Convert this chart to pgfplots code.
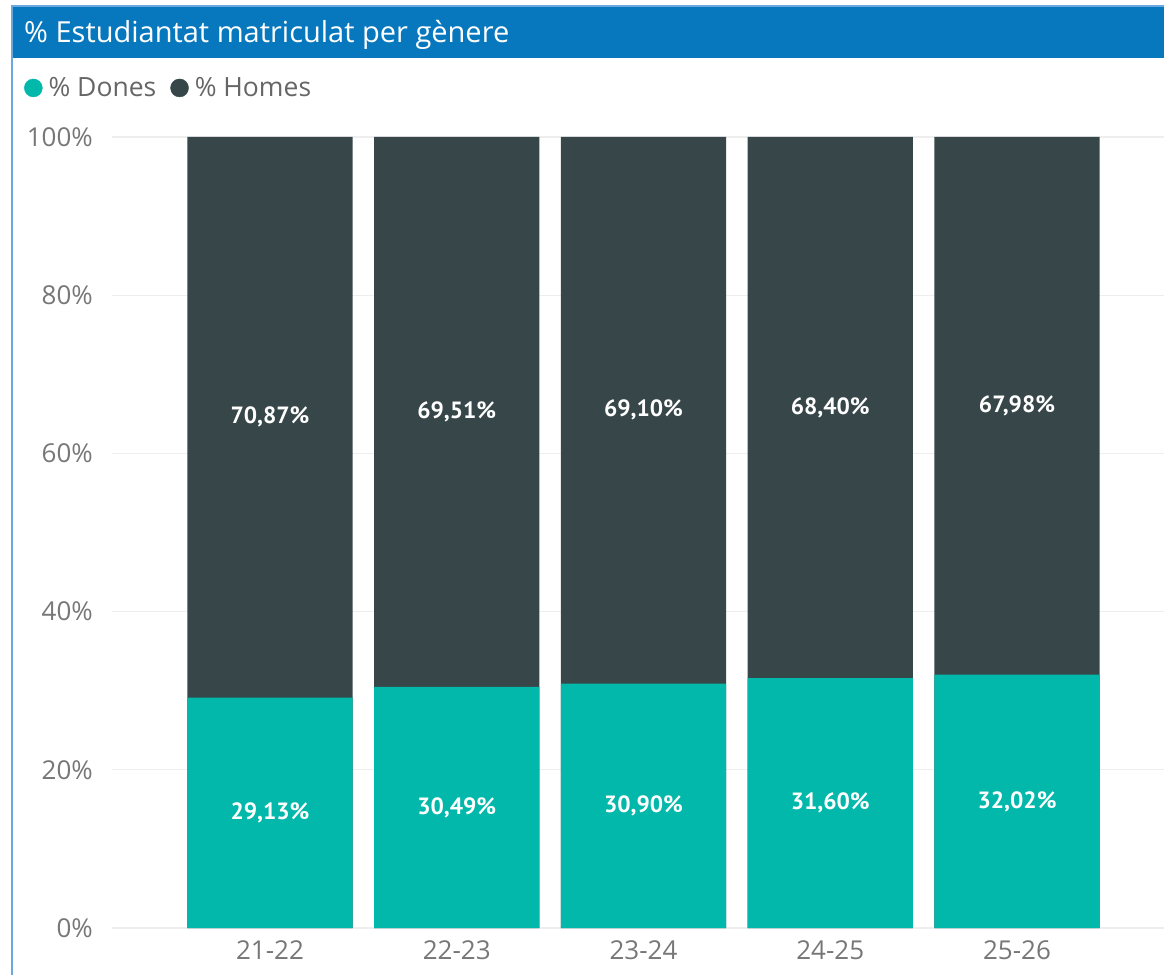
\documentclass[border=0pt]{standalone}
\usepackage{pgfplots}
\pgfplotsset{compat=1.18}
\usepackage{fontspec}
\setmainfont{Open Sans}
\newfontfamily\labfont{PT Sans}
\definecolor{teal}{HTML}{01B8AA}
\definecolor{dark}{HTML}{374649}
\definecolor{titlebar}{HTML}{0878BE}
\definecolor{frameline}{HTML}{6AA8E0}
\definecolor{gridc}{HTML}{EEEEEE}
\definecolor{tickc}{HTML}{777777}
\definecolor{legc}{HTML}{666666}
\begin{document}
\begin{tikzpicture}
\path[use as bounding box] (0pt,0pt) rectangle (1164pt,975pt);
% frame and title bar
\fill[titlebar] (12pt,917pt) rectangle (1164pt,968pt);
\draw[frameline, line width=1.2pt] (12pt,0pt) -- (12pt,969pt) -- (1164pt,969pt);
\node[anchor=base west, inner sep=0pt, text=white, font=\fontsize{29}{33}\selectfont] at (24pt,932pt) {\% Estudiantat matriculat per gènere};
\begin{axis}[
  at={(112pt,47pt)}, anchor=south west,
  scale only axis, width=1052pt, height=791pt,
  xmin=-0.846, xmax=4.787, ymin=0, ymax=100,
  axis lines=none,
  ymajorgrids, grid style={gridc, line width=1.2pt},
  ytick={0,20,40,60,80,100},
  yticklabels={0\%,20\%,40\%,60\%,80\%,100\%},
  xtick={0,1,2,3,4},
  xticklabels={21-22,22-23,23-24,24-25,25-26},
  major tick length=0pt,
  hide x axis=false, hide y axis=false,
  axis x line=bottom, axis y line=left,
  x axis line style={draw=none}, y axis line style={draw=none},
  tick style={draw=none},
  /pgf/number format/assume math mode=true,
  tick label style={text=tickc, font=\fontsize{26}{30}\selectfont},
  yticklabel style={anchor=east, inner sep=0pt, xshift=-19pt},
  xticklabel style={anchor=north, inner sep=0pt, yshift=-12pt},
  clip=false,
  legend style={at={(-0.0837,1.062)}, anchor=west, draw=none, fill=none, inner sep=0pt,
    legend columns=2, font=\fontsize{26.5}{30}\selectfont, text=legc,
    nodes={inner sep=0pt},
    /tikz/every even column/.append style={column sep=14pt},
    /tikz/every odd column/.append style={column sep=6pt}},
  legend cell align=left,
]
\addplot[ybar, bar width=165.4pt, bar shift=0pt, fill=dark, draw=none, forget plot]
  coordinates {(0,100) (1,100) (2,100) (3,100) (4,100)};
\addplot[ybar, bar width=165.4pt, bar shift=0pt, fill=teal, draw=none, forget plot]
  coordinates {(0,29.13) (1,30.49) (2,30.90) (3,31.60) (4,32.02)};
\addplot[draw=none, mark=none, forget plot, nodes near coords, point meta=explicit symbolic,
  nodes near coords align=center,
  every node near coord/.append style={anchor=center, text=white, font=\labfont\bfseries\fontsize{23.5}{28}\selectfont}]
  coordinates {(0,14.565)[29,13\%] (1,15.245)[30,49\%] (2,15.45)[30,90\%] (3,15.80)[31,60\%] (4,16.01)[32,02\%]
               (0,64.565)[70,87\%] (1,65.245)[69,51\%] (2,65.45)[69,10\%] (3,65.80)[68,40\%] (4,66.01)[67,98\%]};
\addlegendimage{legend image code/.code={\fill[teal] (0pt,0pt) circle (9pt);}}
\addlegendentry{\% Dones}
\addlegendimage{legend image code/.code={\fill[dark] (0pt,0pt) circle (9pt);}}
\addlegendentry{\% Homes}
\end{axis}
\end{tikzpicture}
\end{document}
